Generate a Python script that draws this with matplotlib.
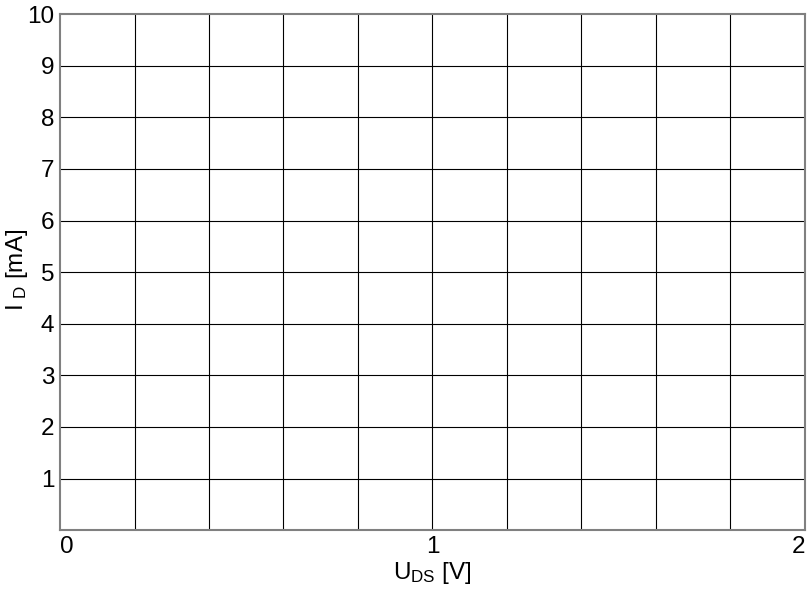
"""Empty I_D vs U_DS grid for hand-drawn characteristic curves."""
import numpy as np
import matplotlib
matplotlib.use("Agg")
import matplotlib.pyplot as plt

plt.rcParams["font.family"] = ["Liberation Sans", "DejaVu Sans"]
plt.rcParams["mathtext.fontset"] = "custom"
plt.rcParams["mathtext.rm"] = "Liberation Sans"
plt.rcParams["mathtext.default"] = "regular"

X_MAX = 2.0
Y_MAX = 10.0
X_GRID = [0.2, 0.4, 0.6, 0.8, 1.0, 1.2, 1.4, 1.6, 1.8]
Y_GRID = [1, 2, 3, 4, 5, 6, 7, 8, 9]
X_TICKS = [0, 1, 2]
X_LABELS = ["0", "1", "2"]
Y_TICKS = [1, 2, 3, 4, 5, 6, 7, 8, 9, 10]
Y_LABELS = ["1", "2", "3", "4", "5", "6", "7", "8", "9", "10"]


def main():
    fig = plt.figure(figsize=(8.11, 5.91), dpi=100)
    ax = fig.add_axes([0.074, 0.103, 0.9185, 0.873])
    ax.set_xlim(0, X_MAX)
    ax.set_ylim(0, Y_MAX)

    for x in X_GRID:
        ax.axvline(x, color="black", lw=0.8)
    for y in Y_GRID:
        ax.axhline(y, color="black", lw=0.8)

    ax.set_xticks(X_TICKS, X_LABELS)
    ax.set_yticks(Y_TICKS, Y_LABELS)
    ax.tick_params(length=0, labelsize=17.5, pad=4)
    for lab, ha in zip(ax.get_xticklabels(), ["left", "center", "right"]):
        lab.set_ha(ha)

    for s in ax.spines.values():
        s.set_color("#808080")
        s.set_linewidth(1.5)

    ax.set_xlabel(r"U$_{DS}$ [V]", fontsize=17.5, labelpad=2)
    fig.text(17 / 811, 1 - 270 / 591, r"I$_{\ D}$ [mA]", fontsize=17.5,
             rotation=90, ha="center", va="center")

    fig.savefig("out.png", dpi=100)


if __name__ == "__main__":
    main()
